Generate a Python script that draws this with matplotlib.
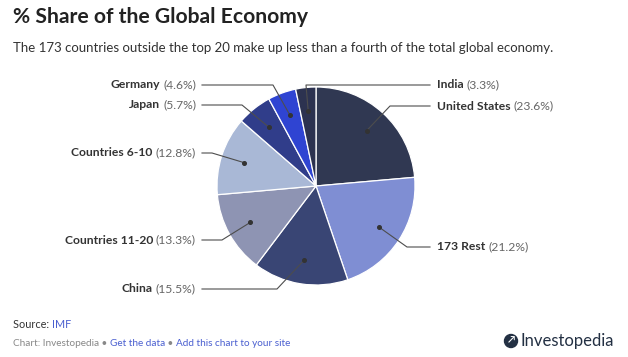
import matplotlib
matplotlib.use("Agg")
from matplotlib import pyplot as plt
import numpy as np

labels = ['United States', '173 Rest', 'China', 'Countries 11-20',
          'Countries 6-10', 'Japan', 'Germany', 'India']
shares = [23.6, 21.2, 15.5, 13.3, 12.8, 5.7, 4.6, 3.3]
colors = ['#303852', '#7f8ed3', '#394574', '#8e94b3',
          '#a9b8d6', '#303d8a', '#2f44d2', '#2c3250']

# label layout: (side, text y px, elbow x px, elbow y px)
label_pos = {
    'United States': ('r', 106, 390, 106),
    '173 Rest': ('r', 247, 407, 247),
    'China': ('l', 289, 277, 289),
    'Countries 11-20': ('l', 240, 222, 240),
    'Countries 6-10': ('l', 153, 212, 153),
    'Japan': ('l', 105, 242, 105),
    'Germany': ('l', 85, 273, 85),
    'India': ('r', 85, 306, 85),
}

W, H = 628, 357
plt.rcParams['font.family'] = ['Lato', 'DejaVu Sans']
fig = plt.figure(figsize=(W / 100, H / 100), dpi=100)
ax = fig.add_axes([0, 0, 1, 1])

cx, cy, R = 316, H - 186, 99
wedges, _ = ax.pie(shares, colors=colors, startangle=90, counterclock=False,
                   center=(cx, cy), radius=R,
                   wedgeprops=dict(edgecolor='white', linewidth=0.9))
ax.set_xlim(0, W)
ax.set_ylim(0, H)
ax.set_aspect('equal')
ax.axis('off')

fig.canvas.draw()
renderer = fig.canvas.get_renderer()

def px_width(t):
    return t.get_window_extent(renderer).width

fs = 8.7
for w, lab, val in zip(wedges, labels, shares):
    ang = np.deg2rad((w.theta1 + w.theta2) / 2)
    dx, dy = cx + 0.76 * R * np.cos(ang), cy + 0.76 * R * np.sin(ang)
    side, ty, ex, ey = label_pos[lab]
    ty, ey = H - ty, H - ey
    ax.plot([dx], [dy], 'o', color='#333333', ms=2.6, zorder=5)
    if side == 'r':
        ax.plot([dx, ex, 430], [dy, ey, ey], color='#4d4d4d', lw=0.8, zorder=4)
        t1 = ax.text(437, ty, lab, fontsize=fs, fontweight='bold',
                     color='#333333', ha='left', va='center')
        ax.text(437 + px_width(t1) + 3, ty, f'({val}%)', fontsize=fs,
                color='#666666', ha='left', va='center')
    else:
        ax.plot([dx, ex, 202], [dy, ey, ey], color='#4d4d4d', lw=0.8, zorder=4)
        t2 = ax.text(196, ty, f'({val}%)', fontsize=fs,
                     color='#666666', ha='right', va='center')
        ax.text(196 - px_width(t2) - 3, ty, lab, fontsize=fs, fontweight='bold',
                color='#333333', ha='right', va='center')

# header
fig.text(13 / W, 1 - 17 / H, '% Share of the Global Economy', fontsize=15.2,
         fontweight='bold', color='#222222', ha='left', va='center')
fig.text(13 / W, 1 - 48 / H,
         'The 173 countries outside the top 20 make up less than a fourth of the total global economy.',
         fontsize=9.5, color='#333333', ha='left', va='center')

# footer
t = fig.text(13 / W, 1 - 324 / H, 'Source: ', fontsize=7.8, color='#333333',
             ha='left', va='center')
x0 = 13 + px_width(t)
fig.text(x0 / W, 1 - 324 / H, 'IMF', fontsize=7.8, color='#4a5fd0',
         ha='left', va='center')

parts = [('Chart: Investopedia', '#888888'), (' \u2022 ', '#888888'),
         ('Get the data', '#4a5fd0'), (' \u2022 ', '#888888'),
         ('Add this chart to your site', '#4a5fd0')]
x0 = 13
for s, c in parts:
    t = fig.text(x0 / W, 1 - 343 / H, s, fontsize=7.2, color=c,
                 ha='left', va='center')
    x0 += px_width(t)

ax.add_patch(plt.Circle((511, H - 341), 6.5, color='#233043'))
ax.text(511.5, H - 341, '\u2197', fontsize=7, color='white', ha='center',
        va='center', fontweight='bold')
fig.text(520 / W, 1 - 341 / H, 'Investopedia', fontsize=12, color='#233043',
         ha='left', va='center')

fig.savefig('out.png', dpi=100)
